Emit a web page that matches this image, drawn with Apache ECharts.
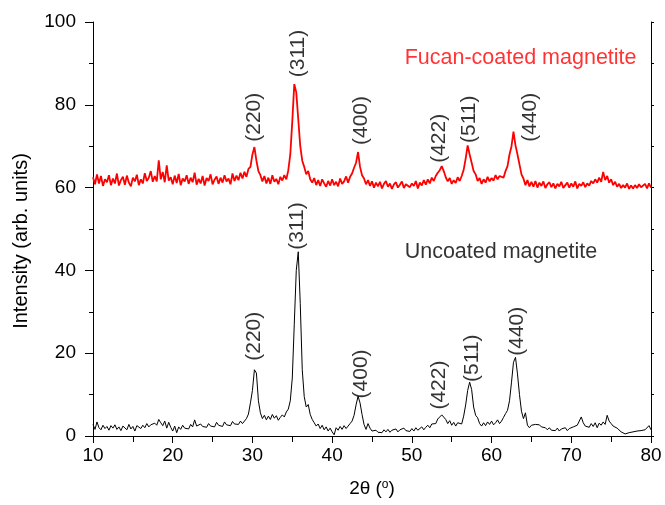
<!DOCTYPE html>
<html lang="en">
<head>
    <meta charset="utf-8">
    <title>XRD magnetite</title>
    <script src="https://cdn.jsdelivr.net/npm/echarts@6/dist/echarts.min.js"></script>
    <style>
        html, body { margin: 0; padding: 0; background: #fff; }
    </style>
</head>
<body>

<div id="main" style="width: 665px;height:505px;"></div>

<script type="text/javascript">

    // 2theta grid: 10 .. 80 in 0.25 steps
    var thetaStart = 10;
    var thetaStep = 0.25;

    // uncoated magnetite (black), one row = 2 degrees
    var uncoated = [
        2.8, 1.6, 3.4, 2.0, 1.5, 2.6, 1.8, 2.3,
        1.4, 2.5, 1.9, 2.7, 1.6, 2.2, 1.3, 2.4,
        2.0, 1.5, 2.8, 1.7, 2.3, 1.2, 2.5, 2.1,
        1.8, 2.6, 2.0, 3.0, 2.2, 2.7, 2.4, 3.1,
        2.6, 4.0, 3.2, 2.5, 3.6, 1.9, 3.3, 2.1,
        1.2, 2.4, 0.8, 2.2, 1.6, 2.6, 1.9, 2.3,
        1.7, 2.8, 2.2, 3.9, 2.4, 2.0, 2.9, 2.3,
        2.7, 2.1, 3.0, 2.4, 2.8, 2.2, 3.3, 2.6,
        2.9, 2.3, 3.4, 2.7, 3.1, 2.5, 3.5, 2.9,
        3.2, 2.8, 3.6, 3.0, 3.4, 4.2, 5.3, 8.0,
        11.0, 16.0, 15.2, 8.5, 5.6, 4.2, 5.0, 3.9,
        4.8, 4.0, 5.2, 4.3, 4.9, 3.8, 4.5, 5.1,
        4.6, 5.8, 6.5, 8.5, 14.0, 27.0, 40.0, 44.5,
        32.0, 16.0, 9.5, 7.0, 7.6, 5.2, 4.0, 3.2,
        2.4, 2.9, 1.8, 2.6, 1.5, 2.2, 1.2, 1.9,
        1.0, 0.3, 2.0, 1.4, 2.3, 1.6, 2.5, 1.8,
        2.4, 3.0, 3.6, 5.0, 7.5, 9.6, 8.0, 5.2,
        2.8, 1.6, 3.0, 1.9, 1.2, 0.8, 1.4, 0.9,
        1.3, 0.8, 1.5, 1.0, 1.6, 0.9, 1.4, 1.1,
        1.7, 1.0, 1.5, 1.2, 1.9, 1.3, 1.6, 1.1,
        1.8, 1.2, 2.0, 1.4, 1.7, 2.2, 1.5, 2.1,
        2.6, 2.0, 2.9, 3.3, 3.0, 4.1, 4.6, 5.1,
        5.5, 4.0, 3.0, 3.7, 2.6, 3.3, 2.4, 3.2,
        3.6, 2.9, 4.8, 7.5, 11.0, 13.0, 11.2, 7.0,
        5.0, 4.4, 3.0, 2.4, 3.2, 2.5, 3.4, 2.8,
        3.6, 2.7, 3.2, 3.9, 3.0, 3.6, 4.5, 5.4,
        6.2, 8.5, 13.0, 17.8, 19.0, 15.0, 10.0, 6.0,
        4.2, 5.6, 2.6, 2.0, 2.6, 2.3, 2.8, 2.5,
        2.7, 2.2, 2.6, 2.0, 1.5, 2.0, 1.4, 1.8,
        1.3, 1.9, 1.2, 1.7, 1.4, 2.0, 1.3, 1.8,
        1.5, 2.2, 1.8, 2.6, 3.0, 4.6, 3.2, 2.4,
        2.8, 2.1, 3.0, 2.3, 3.2, 2.0, 3.1, 2.6,
        3.4, 2.8, 5.0, 3.6, 3.0, 2.4, 2.6, 1.9,
        1.5, 1.0, 1.2, 0.5, 0.3, 0.8, 0.4, 1.0,
        0.7, 1.2, 0.8, 1.3, 1.0, 1.5, 1.1, 2.5,
        1.5
    ];

    // fucan-coated magnetite (red)
    var coated = [
        62.5, 60.8, 63.2, 61.0, 62.8, 60.4, 62.0, 61.3,
        63.0, 60.6, 62.2, 61.0, 63.4, 60.5, 61.8, 62.6,
        60.7, 62.9, 61.2, 60.3, 62.4, 61.5, 63.1, 60.6,
        62.0, 61.0, 63.5, 61.6, 62.4, 64.0, 61.4, 62.8,
        61.5, 66.6, 62.0, 63.8, 61.3, 65.4, 61.7, 62.5,
        60.8, 62.9, 61.1, 63.3, 60.6, 62.2, 61.5, 63.0,
        60.9, 62.4, 61.3, 63.6, 60.7, 62.1, 61.0, 62.8,
        60.5, 62.3, 61.6, 63.2, 60.8, 61.9, 62.7, 60.9,
        62.4, 61.2, 63.0, 61.5, 62.2, 60.8, 63.4, 61.6,
        62.9, 61.8, 63.6, 62.2, 63.8, 62.6, 64.5, 65.0,
        68.0, 69.8, 66.5, 64.0, 63.0, 61.5, 62.8, 61.0,
        62.4, 60.9, 63.0, 61.4, 62.1, 60.8, 62.6, 61.7,
        63.0, 62.0, 64.2, 68.0, 76.0, 85.0, 83.0, 76.5,
        70.0, 66.5, 65.0, 63.2, 64.0, 62.0, 61.2, 62.3,
        60.6, 61.8, 60.4, 62.0, 61.0, 60.2, 61.6, 60.5,
        62.0, 60.6, 61.4, 60.3, 62.2, 60.9, 61.5, 62.7,
        61.2, 62.6, 63.4, 64.8, 66.0, 68.6, 65.0, 63.0,
        62.2, 60.8, 61.8, 60.4, 61.5, 60.0, 61.2, 60.3,
        61.4, 59.8, 60.9, 61.6, 60.2, 61.0, 59.7, 60.8,
        61.3, 60.0, 60.7, 61.5, 59.9, 60.8, 61.2, 60.1,
        61.0, 60.4, 61.6, 59.8, 61.2, 60.5, 61.8, 60.7,
        62.0, 61.0, 62.4, 61.6, 62.8, 63.6, 64.2, 65.2,
        64.0, 62.5, 61.5, 62.3, 60.9, 61.8, 61.1, 62.5,
        61.6, 62.8, 64.3, 67.0, 70.2, 68.0, 66.0, 64.0,
        63.2, 61.6, 62.3, 60.9, 62.0, 61.2, 62.6, 61.5,
        62.3, 61.7, 63.0, 62.0, 62.8, 63.2, 62.4, 64.0,
        65.2, 68.0, 70.0, 73.5, 70.2, 68.0, 65.6, 63.2,
        62.2, 60.6, 61.8, 60.3, 61.4, 60.2, 61.6, 60.0,
        61.2, 60.4, 61.5, 59.9, 60.8, 61.3, 60.1, 61.0,
        59.8, 60.9, 60.3, 61.4, 59.9, 60.6, 61.2, 60.0,
        61.0, 60.2, 61.5, 59.8, 60.9, 60.4, 61.3, 60.1,
        61.0, 60.5, 61.6, 61.0, 62.0, 61.2, 62.4, 61.4,
        63.8, 61.8, 62.8, 61.2, 62.0, 60.6, 61.4, 60.2,
        60.9, 59.9, 60.6, 60.0, 61.0, 59.7, 60.5, 59.8,
        60.6, 59.9, 60.8, 60.1, 59.7, 60.9, 59.8, 61.0,
        60.0
    ];

    // peak labels: [2theta, intensity, text]
    var coatedPeaks = [
        [30.2, 77.0, '(220)'],
        [35.7, 92.4, '(311)'],
        [43.7, 76.2, '(400)'],
        [53.4, 71.9, '(422)'],
        [57.2, 76.5, '(511)'],
        [64.8, 77.0, '(440)']
    ];
    var uncoatedPeaks = [
        [30.2, 24.1, '(220)'],
        [35.6, 50.7, '(311)'],
        [43.7, 15.0, '(400)'],
        [53.4, 12.3, '(422)'],
        [57.6, 18.8, '(511)'],
        [63.2, 25.3, '(440)']
    ];

    var sampleNames = [
        [49.1, 91.4, 'Fucan-coated magnetite', '#ff0000'],
        [49.1, 44.4, 'Uncoated magnetite', '#000000']
    ];

    var xTicks = [10, 80, 10];   // min, max, interval
    var yTicks = [0, 100, 20];

    function toPairs(arr) {
        var out = [];
        for (var i = 0; i < arr.length; i++) {
            out.push([thetaStart + i * thetaStep, arr[i]]);
        }
        return out;
    }

    var font = 'Liberation Sans, Arial, sans-serif';

    var myChart = echarts.init(document.getElementById('main'));

    var option = {
        backgroundColor: '#ffffff',
        animation: false,
        grid: { left: 93, right: 14, top: 22, bottom: 69 },
        xAxis: [{
            type: 'value',
            min: xTicks[0], max: xTicks[1], interval: xTicks[2],
            name: '2θ ({s|o})',
            nameLocation: 'middle',
            nameGap: 43,
            nameTextStyle: {
                fontFamily: font, fontSize: 19, color: '#000',
                rich: { s: { fontFamily: font, fontSize: 12, verticalAlign: 'top', padding: [0, 0, 8, 0] } }
            },
            axisLine: { lineStyle: { color: '#000', width: 1 } },
            axisTick: { inside: false, length: 7, lineStyle: { color: '#000' } },
            minorTick: { show: true, splitNumber: 2, length: 4, lineStyle: { color: '#000' } },
            axisLabel: { fontFamily: font, fontSize: 19, color: '#000', margin: 10 },
            splitLine: { show: false }
        }, {
            type: 'value', position: 'top',
            min: xTicks[0], max: xTicks[1], interval: xTicks[2],
            axisLine: { show: true, lineStyle: { color: '#000', width: 1 } },
            axisTick: { inside: true, length: 6, lineStyle: { color: '#000' } },
            minorTick: { show: true, splitNumber: 2, length: 6, lineStyle: { color: '#000' } },
            axisLabel: { show: false },
            splitLine: { show: false }
        }],
        yAxis: [{
            type: 'value',
            min: yTicks[0], max: yTicks[1], interval: yTicks[2],
            name: 'Intensity (arb. units)',
            nameLocation: 'middle',
            nameGap: 62,
            nameTextStyle: { fontFamily: font, fontSize: 20, color: '#000', padding: [0, 24, 0, 0] },
            axisLine: { lineStyle: { color: '#000', width: 1 } },
            axisTick: { inside: false, length: 8, lineStyle: { color: '#000' } },
            minorTick: { show: true, splitNumber: 2, length: 4, lineStyle: { color: '#000' } },
            axisLabel: { fontFamily: font, fontSize: 19, color: '#000', margin: 17 },
            splitLine: { show: false }
        }, {
            type: 'value', position: 'right',
            min: yTicks[0], max: yTicks[1], interval: yTicks[2],
            axisLine: { show: true, lineStyle: { color: '#000', width: 1 } },
            axisTick: { inside: false, length: 3, lineStyle: { color: '#000' } },
            minorTick: { show: true, splitNumber: 2, length: 3, lineStyle: { color: '#000' } },
            axisLabel: { show: false },
            splitLine: { show: false }
        }],
        series: [{
            name: 'Uncoated magnetite',
            type: 'line',
            data: toPairs(uncoated),
            showSymbol: false,
            silent: true,
            lineStyle: { color: '#000000', width: 1 },
            z: 3
        }, {
            name: 'Fucan-coated magnetite',
            type: 'line',
            data: toPairs(coated),
            showSymbol: false,
            silent: true,
            lineStyle: { color: '#ff0000', width: 1.8 },
            z: 3
        }, {
            name: 'peaks',
            type: 'scatter',
            symbolSize: 0,
            silent: true,
            data: coatedPeaks.concat(uncoatedPeaks).map(function (p) {
                return { value: [p[0], p[1]], label: { formatter: p[2] } };
            }),
            label: {
                show: true, position: 'inside', rotate: 90,
                fontFamily: font, fontSize: 21, color: '#000'
            },
            z: 5
        }, {
            name: 'names',
            type: 'scatter',
            symbolSize: 0,
            silent: true,
            data: sampleNames.map(function (p) {
                return { value: [p[0], p[1]], label: { formatter: p[2], color: p[3] } };
            }),
            label: {
                show: true, position: 'right', distance: 0,
                fontFamily: font, fontSize: 21.5
            },
            z: 5
        }]
    };

    myChart.setOption(option);

</script>

</body>
</html>
